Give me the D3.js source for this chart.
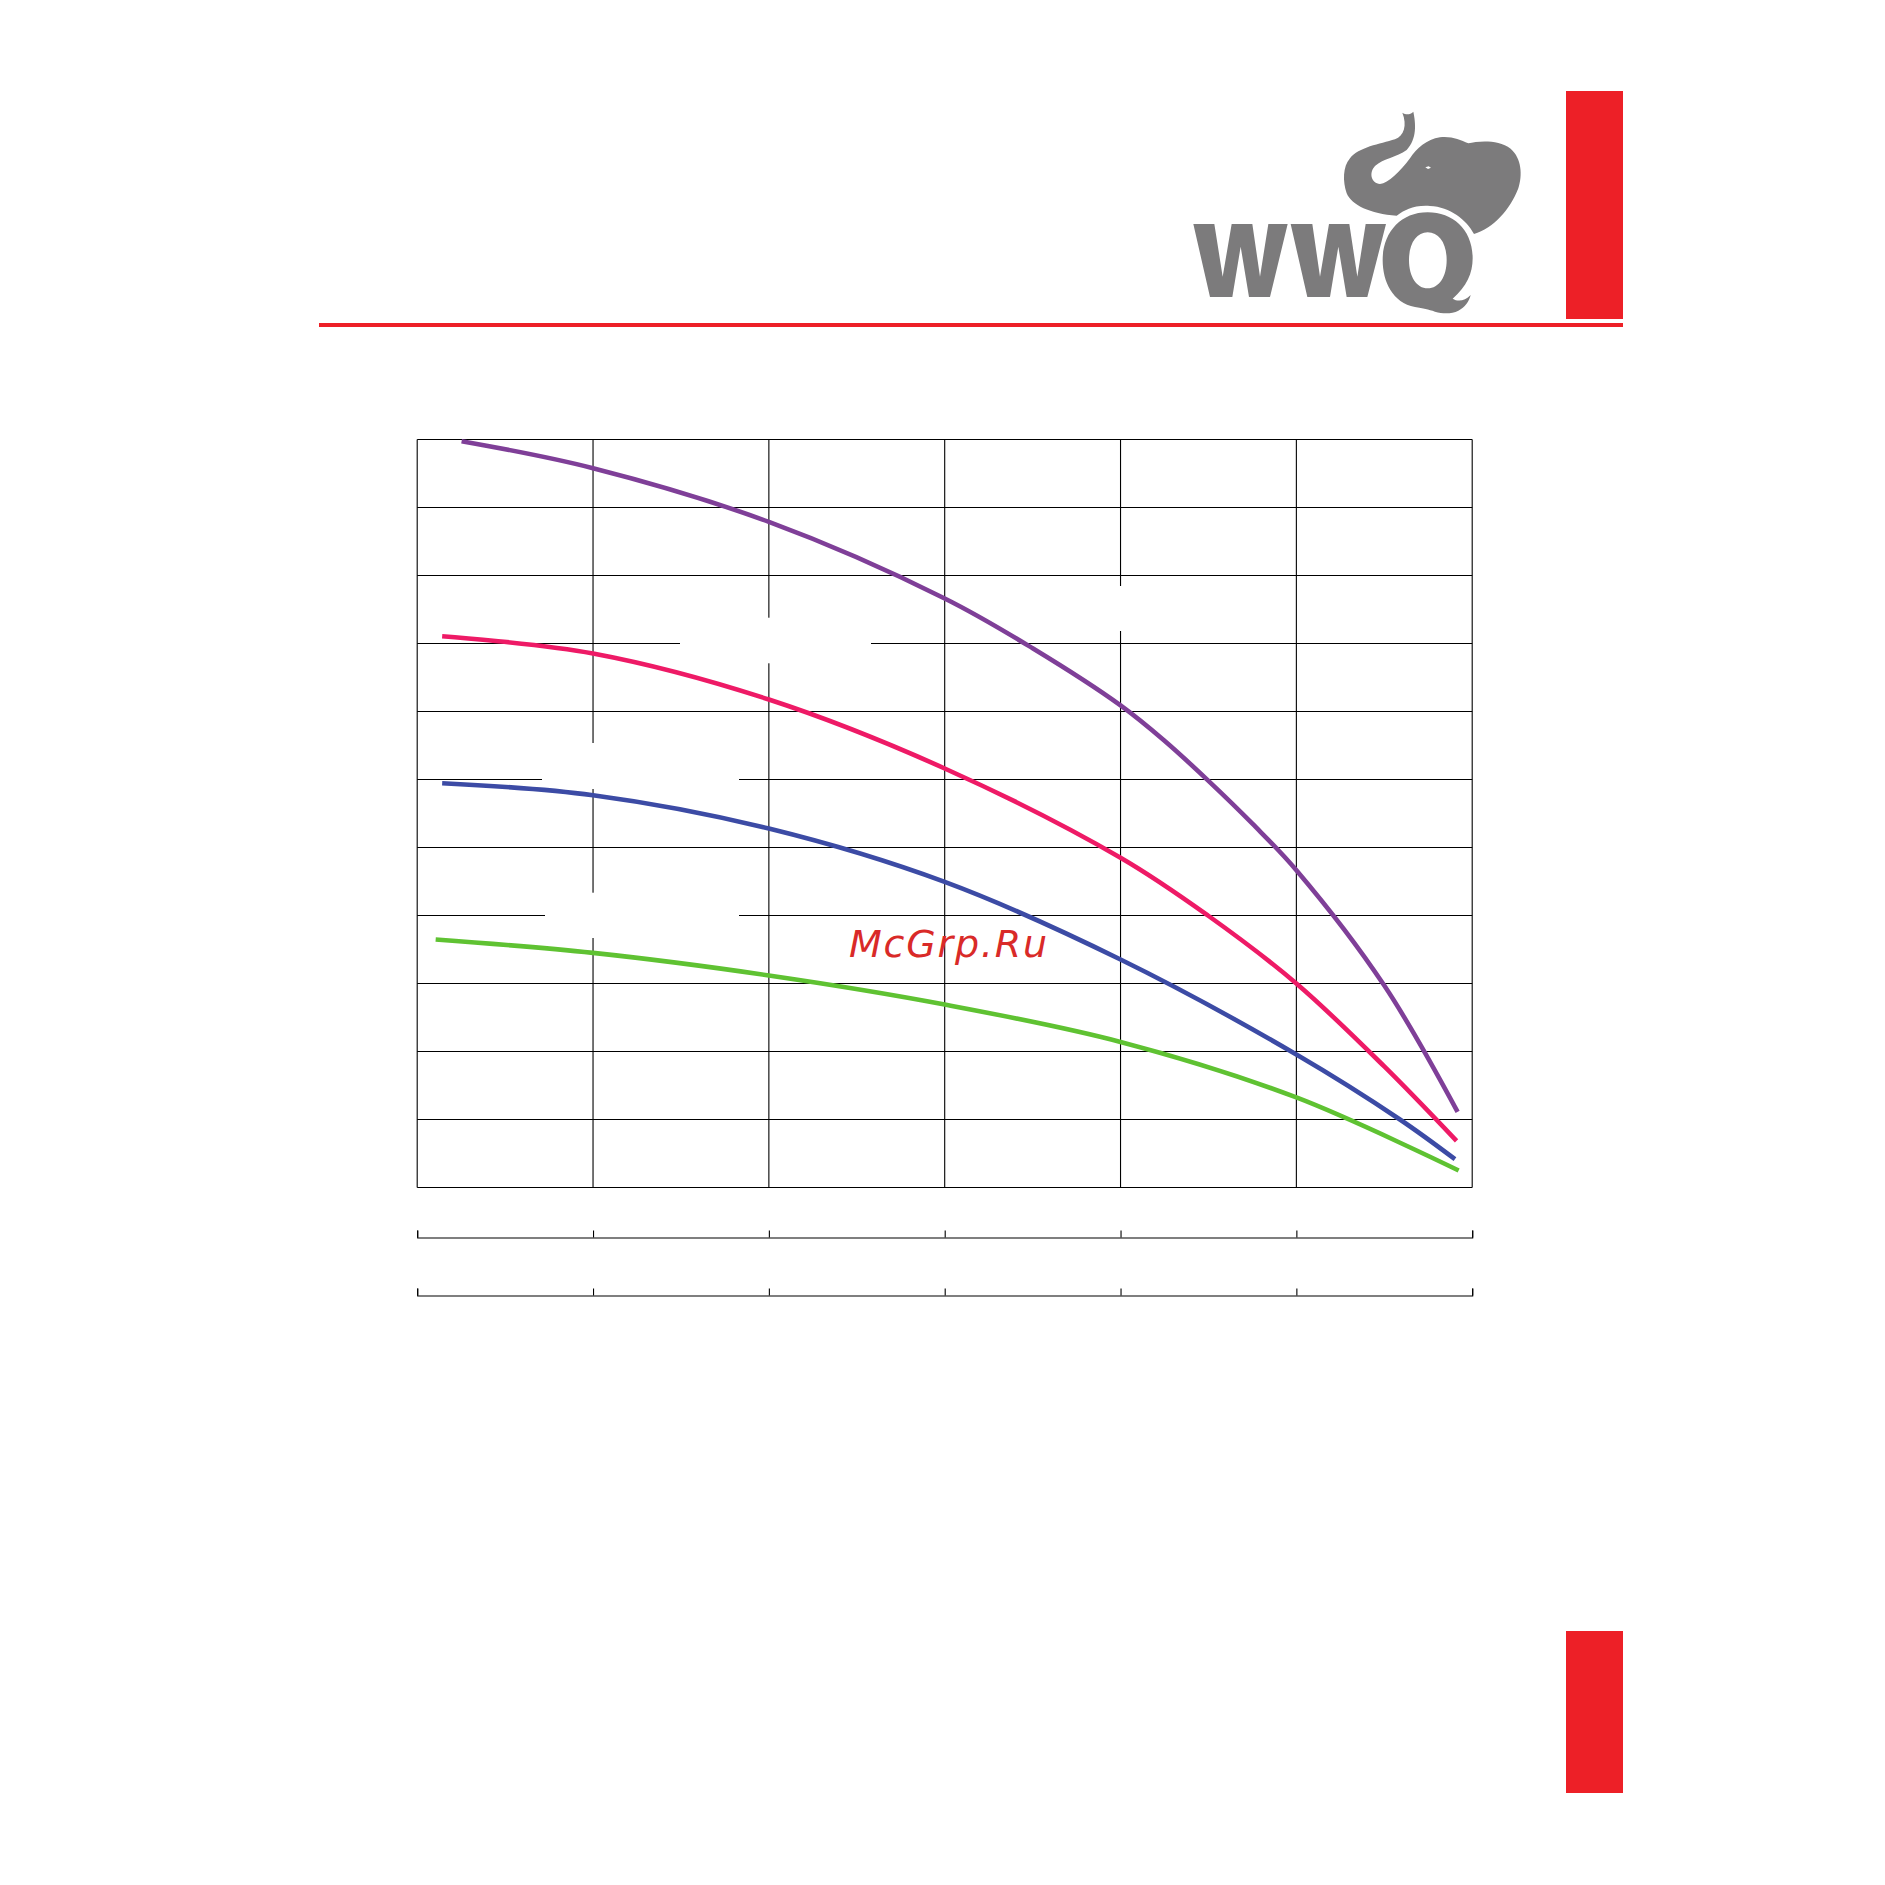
<!DOCTYPE html>
<html><head><meta charset="utf-8">
<script src="https://d3js.org/d3.v7.min.js"></script>
<style>html,body{margin:0;padding:0;background:#fff}svg{display:block}</style>
</head><body><div id="c"></div>
<script>
// Chart data, in grid units (the reference prints no tick labels)
const xTicks = [0,1,2,3,4,5,6];
const yTicks = [0,1,2,3,4,5,6,7,8,9,10,11];
const purpleX = [0.2525,1,2,3,3.5,4,4.25,4.5,4.75,5,5.5,5.917];
const purpleY = [10.975,10.578,9.788,8.662,7.93,7.09,6.57,5.98,5.35,4.666,2.97,1.112];
const pinkX = [0.142,1,2,3,4,4.497,5,5.5,5.911];
const pinkY = [8.107,7.853,7.176,6.162,4.85,4,3,1.78,0.685];
const blueX = [0.142,1,2,3,4,5,5.589,5.902];
const blueY = [5.946,5.769,5.279,4.494,3.353,1.956,1,0.416];
const greenX = [0.105,1,2,3,4,5,5.923];
const greenY = [3.647,3.45,3.118,2.691,2.141,1.324,0.25];
const seriesList = [
  {x:purpleX,y:purpleY,color:"#7f3f98"},
  {x:pinkX,y:pinkY,color:"#ee1a66"},
  {x:blueX,y:blueY,color:"#3c4ba5"},
  {x:greenX,y:greenY,color:"#5fc232"}
];
const watermark = "McGrp.Ru";

const W=1885,H=1885;
const svg=d3.select("#c").append("svg").attr("width",W).attr("height",H).attr("viewBox",`0 0 ${W} ${H}`);
svg.append("rect").attr("width",W).attr("height",H).attr("fill","#fff");

const plotL=417.2,plotR=1472.2,plotT=439.5,plotB=1187.5;
const x=d3.scaleLinear().domain([0,6]).range([plotL,plotR]);
const y=d3.scaleLinear().domain([0,11]).range([plotB,plotT]);

// Page furniture
const RED="#ed2027";
svg.append("rect").attr("x",1566).attr("y",91).attr("width",57).attr("height",228).attr("fill",RED);
svg.append("rect").attr("x",1566).attr("y",1631).attr("width",57).attr("height",162).attr("fill",RED);
svg.append("rect").attr("x",319).attr("y",323).attr("width",1304).attr("height",4).attr("fill",RED);

// Logo, traced in 3x crop units
const logo=svg.append("g").attr("transform","translate(1150,60) scale(0.33333)").attr("fill","#7c7b7c");
logo.append("path").attr("d",
 "M790,155 C797,190 802,235 770,270 C740,292 700,295 675,318 C655,340 665,370 690,372 C715,370 750,335 780,295 "+
 "C800,265 830,238 870,232 C905,228 930,240 955,250 C985,243 1045,238 1082,266 C1115,295 1118,345 1105,385 "+
 "C1080,450 1030,505 972,522 C950,480 900,440 840,438 C790,435 765,450 740,467 C660,462 605,435 590,400 "+
 "C578,365 578,320 600,295 C625,262 690,252 735,238 C762,228 772,195 757,158 C768,165 780,165 790,155 Z");
logo.append("path").attr("fill","#fff").attr("d","M826,322 L836,319 L843,323 L834,327 Z");
logo.append("path").attr("d","M130,492 L193,492 L218,650 L245,492 L307,492 L330,650 L355,492 L413,492 L360,711 L297,711 L272,560 L247,711 L180,711 Z");
logo.append("path").attr("d","M422,492 L487,492 L510,650 L537,492 L598,492 L622,650 L647,492 L708,492 L652,711 L590,711 L565,560 L540,711 L472,711 Z");
logo.append("path").attr("fill-rule","evenodd").attr("d",
 "M968,595 C968,510 910,457 833,457 C750,457 698,520 698,600 C698,665 728,728 795,741 C820,745 835,748 855,755 "+
 "C880,762 905,762 925,752 C945,742 957,725 962,705 C945,722 925,727 908,716 C950,680 968,640 968,595 Z "+
 "M833,517 C800,517 777,550 777,600 C777,650 800,685 833,685 C867,685 890,650 890,600 C890,550 867,517 833,517 Z");

// Grid
const grid=svg.append("g").attr("stroke","#000").attr("stroke-width",1.1).attr("fill","none");
grid.selectAll("line.h").data(yTicks).join("line").attr("class","h")
  .attr("x1",plotL).attr("x2",plotR).attr("y1",d=>y(d)).attr("y2",d=>y(d));
grid.selectAll("line.v").data(xTicks).join("line").attr("class","v")
  .attr("y1",plotT).attr("y2",plotB).attr("x1",d=>x(d)).attr("x2",d=>x(d));

// Blanked label areas of the original
const blanks=[[680,617.7,191,45.6],[542,743,197,46],[545,892.7,194,45.3],[1040,586,160,45]];
svg.append("g").attr("fill","#fff").selectAll("rect").data(blanks).join("rect")
  .attr("x",d=>d[0]).attr("y",d=>d[1]).attr("width",d=>d[2]).attr("height",d=>d[3]);

// Secondary axes below the plot
[1237.5,1295.5].forEach(py=>{
  const g=svg.append("g").attr("transform",`translate(0,${py})`)
    .call(d3.axisTop(x).tickValues(xTicks).tickSize(7).tickSizeOuter(7).tickFormat(""));
  g.selectAll("path,line").attr("stroke","#000").attr("stroke-width",1.1);
});

// Curves
const curveLine=d3.line().x(d=>x(d[0])).y(d=>y(d[1])).curve(d3.curveCatmullRom.alpha(0.5));
svg.append("g").attr("fill","none").attr("stroke-width",4.6).selectAll("path").data(seriesList).join("path")
  .attr("stroke",d=>d.color).attr("d",d=>curveLine(d3.zip(d.x,d.y)));

// Watermark
svg.append("text").attr("x",849).attr("y",956.5).text(watermark)
  .attr("font-family","DejaVu Sans").attr("font-style","italic").attr("font-size",38)
  .attr("letter-spacing",1.8).attr("fill","#d92a28");
</script></body></html>
